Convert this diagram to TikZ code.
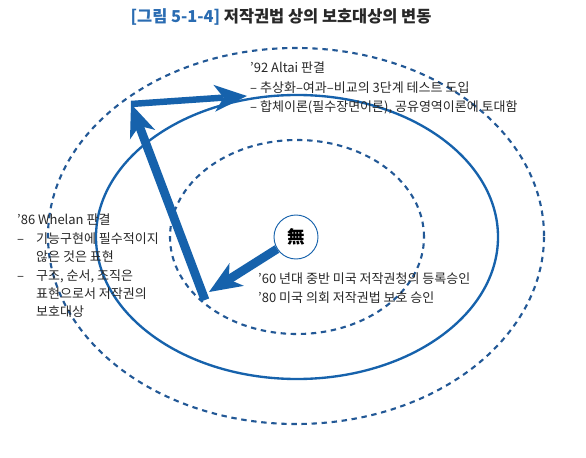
\documentclass[tikz,border=0pt]{standalone}
\usepackage{fontspec}
\setmainfont{Noto Sans CJK KR}
\usepackage{tikz}
\usetikzlibrary{arrows.meta, positioning, calc}
\definecolor{lawBlue}{RGB}{22,98,172}
\definecolor{ringBlue}{RGB}{34,88,150}
\definecolor{titleBlue}{RGB}{42,108,178}
\definecolor{textGray}{RGB}{40,40,40}
\tikzset{
  ring/.style={draw=ringBlue, line width=1.8pt, dash pattern=on 4.6pt off 4pt},
  mainring/.style={draw=lawBlue, line width=2pt},
  fatarrow/.style={draw=lawBlue, line width=7.5pt,
              -{Stealth[length=28pt, width=23pt, inset=8pt, line width=0pt]}},
  slimarrow/.style={fatarrow, line width=5.5pt},
  nothingnode/.style={circle, draw=lawBlue, line width=0.8pt, fill=white, minimum size=1.32cm,
              inner sep=0pt, font=\bfseries\fontsize{15}{15}\selectfont},
  caselabel/.style={anchor=north west, inner sep=0pt, align=left, text=textGray,
              font=\fontsize{11.1}{16.5}\selectfont},
}

\begin{document}
\begin{tikzpicture}[x=0.03cm, y=-0.03cm]
  \useasboundingbox[fill=white] (0,0) rectangle (586,458);
  % title
  \node[font=\bfseries\fontsize{14}{16}\selectfont, text=textGray] (title) at (281,17)
       {\textcolor{titleBlue}{[그림 5-1-4]} 저작권법 상의 보호대상의 변동};
  % three rings of protection
  \draw[ring] (296,236) ellipse [x radius=7.44cm, y radius=5.64cm];
  \draw[mainring] (297,237) ellipse [x radius=6.03cm, y radius=4.26cm];
  \draw[ring] (297,237) ellipse [x radius=3.81cm, y radius=2.91cm];
  % case labels
  \node[caselabel] (altai) at (250,62)
       {’92 Altai 판결\\– 추상화–여과–비교의 3단계 테스트 도입\\– 합체이론(필수장면이론), 공유영역이론에 토대함};
  \node[caselabel, font=\fontsize{11.1}{15.7}\selectfont] (whelan) at (17,214)
       {’86 Whelan 판결\\
        \makebox[0.57cm][l]{–}기능구현에 필수적이지\\
        \hspace*{0.57cm}않은 것은 표현\\
        \makebox[0.57cm][l]{–}구조, 순서, 조직은\\
        \hspace*{0.57cm}표현으로서 저작권의\\
        \hspace*{0.57cm}보호대상};
  \node[caselabel, font=\fontsize{11.1}{17}\selectfont] (registry) at (258,272)
       {’60 년대 중반 미국 저작권청의 등록승인\\’80 미국 의회 저작권법 보호 승인};
  % arrows
  \node[nothingnode] (nothing) at (296,237) {無};
  \coordinate (nothingtip) at (209,292);
  \coordinate (lowcorner) at (205,300);
  \coordinate (topcorner) at (131,104);
  \coordinate (altaitip) at (247,96);
  \draw[fatarrow] (nothing) -- (nothingtip);
  \draw[fatarrow] (lowcorner) -- (topcorner);
  \draw[slimarrow] (topcorner) -- (altaitip);
\end{tikzpicture}
\end{document}
